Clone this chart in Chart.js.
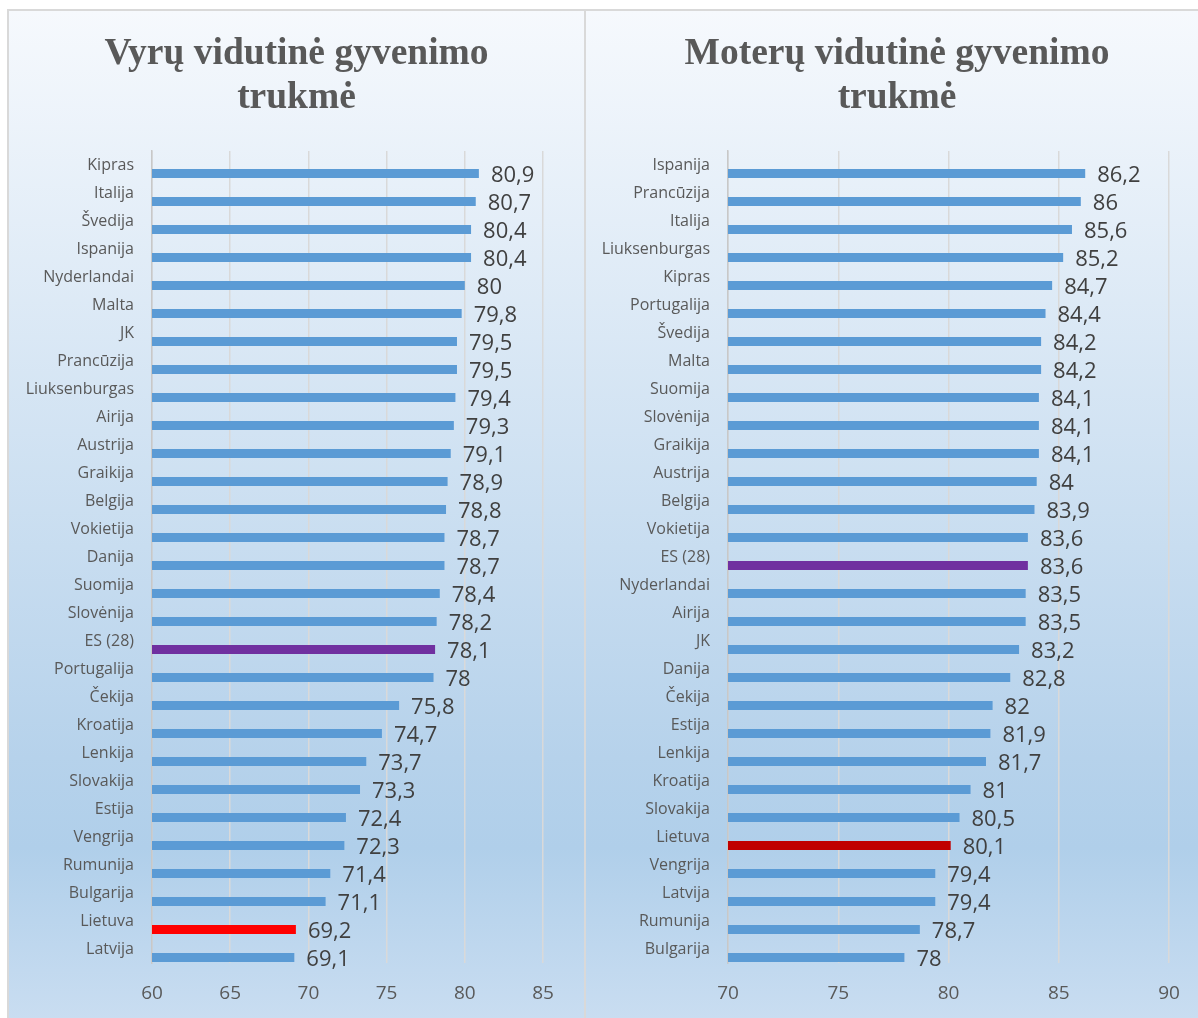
<!DOCTYPE html>
<html lang="lt">
<head>
<meta charset="utf-8">
<title>Vidutinė gyvenimo trukmė</title>
<script src="https://cdn.jsdelivr.net/npm/chart.js@4.4.1/dist/chart.umd.min.js"></script>
<style>
  html, body { margin: 0; padding: 0; background: #ffffff; }
  body { width: 1198px; height: 1018px; position: relative; overflow: hidden; }
  .panel {
    position: absolute;
    top: 9px;
    height: 1012px;
    box-sizing: border-box;
    border: 2px solid #d9d9d9;
    background: linear-gradient(to bottom, #f6f9fd 0%, #b6d2eb 74%, #b0cfea 83%, #c9ddf1 100%);
  }
  #panelMen { left: 7px; width: 579px; }
  #panelWomen { left: 584px; width: 626px; }
  canvas { position: absolute; left: 0; top: 0; }
  .title {
    position: absolute;
    left: 0; right: 0; top: 19px;
    margin: 0;
    text-align: center;
    font-family: "Liberation Serif", "Times New Roman", serif;
    font-weight: bold;
    font-size: 37.5px;
    line-height: 44px;
    color: #595959;
    z-index: 1;
  }
</style>
</head>
<body>
<div class="panel" id="panelMen">
  <canvas id="men" width="575" height="1008"></canvas>
  <h2 class="title" id="menTitle"></h2>
</div>
<div class="panel" id="panelWomen">
  <canvas id="women" width="622" height="1008"></canvas>
  <h2 class="title" id="womenTitle"></h2>
</div>
<script>
// Vyrai
const menCountries = ['Kipras', 'Italija', 'Švedija', 'Ispanija', 'Nyderlandai', 'Malta', 'JK', 'Prancūzija',
  'Liuksenburgas', 'Airija', 'Austrija', 'Graikija', 'Belgija', 'Vokietija', 'Danija', 'Suomija', 'Slovėnija',
  'ES (28)', 'Portugalija', 'Čekija', 'Kroatija', 'Lenkija', 'Slovakija', 'Estija', 'Vengrija', 'Rumunija',
  'Bulgarija', 'Lietuva', 'Latvija'];
const menValues = [80.9, 80.7, 80.4, 80.4, 80, 79.8, 79.5, 79.5, 79.4, 79.3, 79.1, 78.9, 78.8, 78.7, 78.7, 78.4,
  78.2, 78.1, 78, 75.8, 74.7, 73.7, 73.3, 72.4, 72.3, 71.4, 71.1, 69.2, 69.1];
const menTicks = [60, 65, 70, 75, 80, 85];

// Moterys
const womenCountries = ['Ispanija', 'Prancūzija', 'Italija', 'Liuksenburgas', 'Kipras', 'Portugalija', 'Švedija',
  'Malta', 'Suomija', 'Slovėnija', 'Graikija', 'Austrija', 'Belgija', 'Vokietija', 'ES (28)', 'Nyderlandai',
  'Airija', 'JK', 'Danija', 'Čekija', 'Estija', 'Lenkija', 'Kroatija', 'Slovakija', 'Lietuva', 'Vengrija',
  'Latvija', 'Rumunija', 'Bulgarija'];
const womenValues = [86.2, 86, 85.6, 85.2, 84.7, 84.4, 84.2, 84.2, 84.1, 84.1, 84.1, 84, 83.9, 83.6, 83.6, 83.5,
  83.5, 83.2, 82.8, 82, 81.9, 81.7, 81, 80.5, 80.1, 79.4, 79.4, 78.7, 78];
const womenTicks = [70, 75, 80, 85, 90];

const menTitle = ['Vyrų vidutinė gyvenimo', 'trukmė'];
const womenTitle = ['Moterų vidutinė gyvenimo', 'trukmė'];

const BAR_BLUE = '#5b9bd5';
const EU_PURPLE = '#7030a0';

function barColors(countries, ltColor) {
  return countries.map(c => c === 'ES (28)' ? EU_PURPLE : (c === 'Lietuva' ? ltColor : BAR_BLUE));
}

const fmt = v => String(v).replace('.', ',');

function setTitle(id, lines) {
  const el = document.getElementById(id);
  lines.forEach((line, i) => {
    if (i) el.appendChild(document.createElement('br'));
    el.appendChild(document.createTextNode(line));
  });
}
setTitle('menTitle', menTitle);
setTitle('womenTitle', womenTitle);

// value labels drawn just past the end of each bar
const valueLabels = {
  id: 'valueLabels',
  afterDatasetsDraw(chart) {
    const ctx = chart.ctx;
    const meta = chart.getDatasetMeta(1);
    const data = chart.data.datasets[1].data;
    ctx.save();
    ctx.font = '22px "Open Sans"';
    ctx.fillStyle = '#404040';
    ctx.textAlign = 'left';
    ctx.textBaseline = 'middle';
    meta.data.forEach((bar, i) => {
      ctx.fillText(fmt(data[i]), bar.x + 12, bar.y + 2);
    });
    ctx.restore();
  }
};

function makeChart(canvasId, countries, values, ticks, ltColor, axisWidth, rightPad) {
  return new Chart(document.getElementById(canvasId), {
    type: 'bar',
    data: {
      labels: countries,
      datasets: [
        // empty first series of each cluster, so the bar sits low in its row
        { data: [], backgroundColor: 'rgba(0,0,0,0)' },
        { data: values, backgroundColor: barColors(countries, ltColor), borderWidth: 0 }
      ]
    },
    options: {
      indexAxis: 'y',
      responsive: false,
      animation: false,
      categoryPercentage: 1.214,
      barPercentage: 0.53,
      layout: { padding: { left: 0, right: rightPad, top: 140, bottom: 0 } },
      plugins: {
        legend: { display: false },
        tooltip: { enabled: false },
        title: { display: false }
      },
      scales: {
        x: {
          min: ticks[0],
          max: ticks[ticks.length - 1],
          afterBuildTicks(scale) { scale.ticks = ticks.map(v => ({ value: v })); },
          grid: { color: '#d9d9d9', lineWidth: 1.5, drawTicks: false },
          border: { display: false },
          ticks: {
            color: '#595959',
            font: { family: '"Open Sans"', size: 19 },
            padding: 19
          },
          afterFit(scale) { scale.height = 56; }
        },
        y: {
          grid: { display: false },
          border: { display: true, color: '#c8c8c8', width: 1.5 },
          ticks: {
            color: '#595959',
            font: { family: '"Open Sans"', size: 16 },
            padding: 10,
            autoSkip: false
          },
          afterFit(scale) { scale.width = axisWidth; }
        }
      }
    },
    plugins: [valueLabels]
  });
}

makeChart('men', menCountries, menValues, menTicks, '#ff0000', 143, 41);
makeChart('women', womenCountries, womenValues, womenTicks, '#c00000', 142, 39);
</script>
</body>
</html>
